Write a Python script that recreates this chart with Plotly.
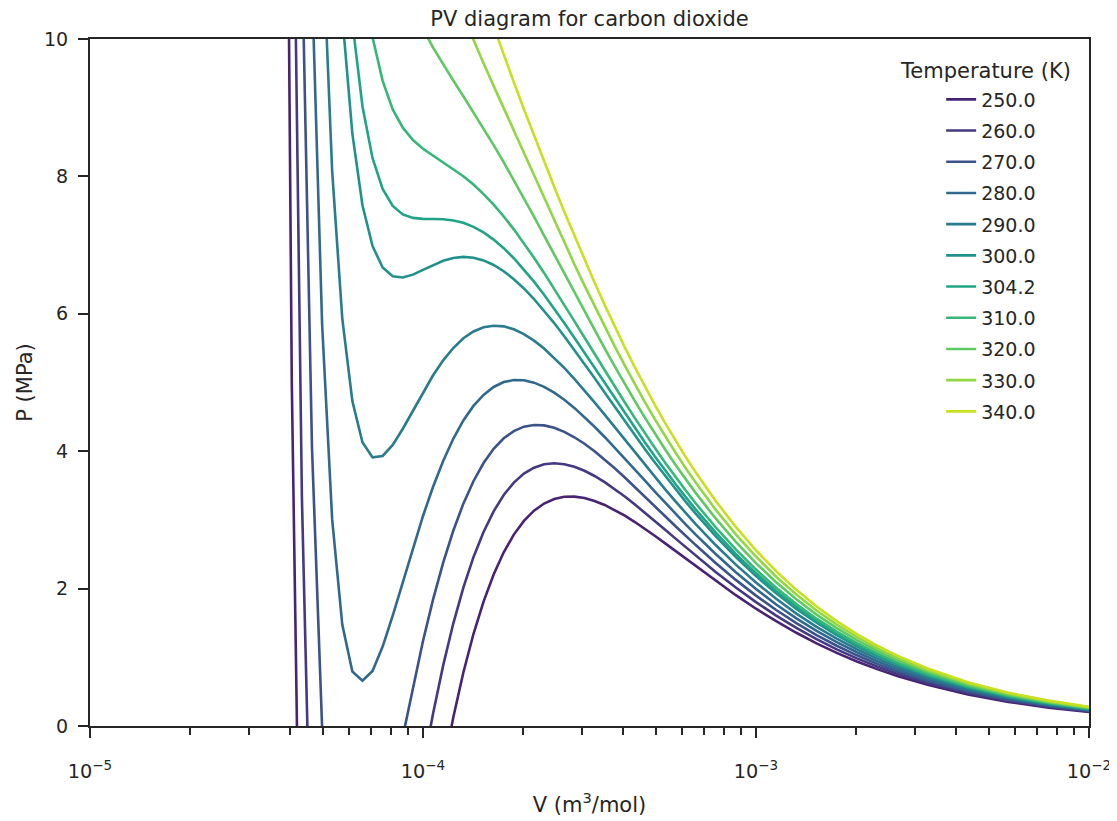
import plotly.graph_objects as go

# Temperatures (K) and their colours (viridis, sampled)
temperatures = [250.0, 260.0, 270.0, 280.0, 290.0, 300.0, 304.2, 310.0, 320.0, 330.0, 340.0]
colors = ["#482374", "#443983", "#3b528b", "#31688e", "#287c8e", "#21918c",
          "#20a486", "#35b779", "#5ec962", "#90d743", "#c8e020"]

# Molar volume (m^3/mol)
volume = [
    3.76494e-05, 4.03702e-05, 4.32876e-05, 4.64159e-05, 4.97702e-05, 5.33670e-05, 5.72237e-05, 6.13591e-05, 6.57933e-05, 7.05480e-05,
    7.56463e-05, 8.11131e-05, 8.69749e-05, 9.32603e-05, 1.00000e-04, 1.07227e-04, 1.14976e-04, 1.23285e-04, 1.32194e-04, 1.41747e-04,
    1.51991e-04, 1.62975e-04, 1.74753e-04, 1.87382e-04, 2.00923e-04, 2.15443e-04, 2.31013e-04, 2.47708e-04, 2.65609e-04, 2.84804e-04,
    3.05386e-04, 3.27455e-04, 3.51119e-04, 3.76494e-04, 4.03702e-04, 4.32876e-04, 4.64159e-04, 4.97702e-04, 5.33670e-04, 5.72237e-04,
    6.13591e-04, 6.57933e-04,
    7.56463e-04, 8.69749e-04, 1.00000e-03, 1.14976e-03, 1.32194e-03, 1.51991e-03, 1.74753e-03, 2.00923e-03, 2.31013e-03, 2.65609e-03,
    3.27455e-03, 4.32876e-03, 5.72237e-03, 7.56463e-03, 1.00000e-02,
]

# Pressure (MPa) for each isotherm; None = off the chart (curve not shown there)
p_250 = [23.204, 4.967, -4.756] + [None] * 13 + [
    -0.632, 0.124, 0.779, 1.339,
    1.811, 2.205, 2.528, 2.786, 2.986, 3.134, 3.238, 3.303, 3.336, 3.339,
    3.318, 3.276, 3.218, 3.145, 3.062, 2.969, 2.870, 2.766, 2.658, 2.549,
    2.438, 2.328,
    2.112, 1.904, 1.707, 1.525, 1.357, 1.203, 1.065, 0.940, 0.828, 0.728,
    0.599, 0.459, 0.351, 0.268, 0.204]

p_260 = [None, 14.507, 3.321, -2.804] + [None] * 10 + [
    -0.604, 0.183, 0.882, 1.491, 2.014, 2.457,
    2.825, 3.125, 3.363, 3.543, 3.674, 3.760, 3.810, 3.824, 3.810, 3.773,
    3.715, 3.639, 3.549, 3.449, 3.340, 3.224, 3.105, 2.981, 2.856, 2.731,
    2.606, 2.483,
    2.243, 2.016, 1.803, 1.607, 1.427, 1.264, 1.116, 0.984, 0.866, 0.761,
    0.625, 0.479, 0.366, 0.279, 0.212]

p_270 = [None, None, 11.302, 4.045, -0.014, -2.125] + [None] * 6 + [
    -0.152, 0.568, 1.238, 1.842, 2.379, 2.842, 3.237, 3.563,
    3.828, 4.034, 4.188, 4.293, 4.357, 4.382, 4.376, 4.340, 4.281, 4.203,
    4.108, 3.999, 3.879, 3.751, 3.617, 3.479, 3.338, 3.196, 3.053, 2.912,
    2.773, 2.637,
    2.374, 2.127, 1.898, 1.688, 1.497, 1.324, 1.168, 1.029, 0.904, 0.794,
    0.652, 0.499, 0.381, 0.290, 0.221]

p_280 = [None] * 3 + [
    10.816, 5.856, 3.003, 1.477, 0.793, 0.660, 0.802,
    1.156, 1.608, 2.100, 2.592, 3.057, 3.483, 3.858, 4.180, 4.447, 4.659,
    4.820, 4.935, 5.006, 5.036, 5.033, 4.998, 4.937, 4.852, 4.749, 4.630,
    4.498, 4.356, 4.207, 4.051, 3.892, 3.731, 3.570, 3.409, 3.250, 3.093,
    2.940, 2.790,
    2.504, 2.238, 1.993, 1.769, 1.566, 1.384, 1.220, 1.073, 0.943, 0.827,
    0.678, 0.519, 0.396, 0.302, 0.229]

p_290 = [None] * 4 + [
    11.658, 8.072, 5.934, 4.730, 4.129, 3.910,
    3.931, 4.091, 4.327, 4.592, 4.858, 5.105, 5.323, 5.502, 5.644, 5.743,
    5.804, 5.827, 5.817, 5.774, 5.704, 5.609, 5.494, 5.360, 5.213, 5.054,
    4.886, 4.711, 4.532, 4.349, 4.166, 3.982, 3.800, 3.621, 3.445, 3.273,
    3.105, 2.943,
    2.634, 2.349, 2.088, 1.851, 1.636, 1.443, 1.271, 1.117, 0.981, 0.860,
    0.705, 0.539, 0.411, 0.313, 0.238]

p_300 = [None] * 6 + [
    10.340, 8.623, 7.581, 6.985,
    6.674, 6.547, 6.529, 6.570, 6.639, 6.711, 6.772, 6.813, 6.829, 6.817,
    6.777, 6.711, 6.619, 6.504, 6.369, 6.215, 6.047, 5.865, 5.674, 5.475,
    5.272, 5.064, 4.855, 4.646, 4.438, 4.232, 4.030, 3.832, 3.639, 3.452,
    3.270, 3.095,
    2.764, 2.460, 2.182, 1.931, 1.705, 1.503, 1.322, 1.161, 1.019, 0.893,
    0.731, 0.559, 0.426, 0.324, 0.246]

p_304 = [None] * 7 + [
    10.245, 9.021, 8.265,
    7.818, 7.570, 7.447, 7.396, 7.382, 7.380, 7.377, 7.359, 7.324, 7.265,
    7.184, 7.080, 6.955, 6.809, 6.646, 6.468, 6.277, 6.076, 5.866, 5.651,
    5.433, 5.211, 4.990, 4.770, 4.552, 4.337, 4.126, 3.920, 3.720, 3.526,
    3.339, 3.158,
    2.818, 2.506, 2.222, 1.965, 1.735, 1.528, 1.344, 1.180, 1.035, 0.907,
    0.742, 0.567, 0.432, 0.329, 0.250]

p_310 = [None] * 8 + [
    10.998, 10.025,
    9.390, 8.976, 8.709, 8.529, 8.402, 8.301, 8.208, 8.110, 8.003, 7.881,
    7.742, 7.588, 7.417, 7.229, 7.028, 6.816, 6.595, 6.366, 6.131, 5.894,
    5.655, 5.414, 5.176, 4.940, 4.709, 4.481, 4.258, 4.042, 3.832, 3.630,
    3.434, 3.246,
    2.893, 2.570, 2.277, 2.012, 1.775, 1.562, 1.373, 1.206, 1.057, 0.926,
    0.758, 0.579, 0.441, 0.335, 0.255]

p_320 = [None] * 13 + [
    10.468, 10.148, 9.875, 9.629, 9.396, 9.167, 8.935,
    8.700, 8.456, 8.206, 7.948, 7.683, 7.413, 7.139, 6.863, 6.586, 6.309,
    6.035, 5.763, 5.496, 5.234, 4.977, 4.728, 4.486, 4.251, 4.025, 3.807,
    3.598, 3.397,
    3.021, 2.679, 2.370, 2.093, 1.844, 1.622, 1.425, 1.250, 1.095, 0.959,
    0.784, 0.598, 0.456, 0.346, 0.263]

p_330 = [None] * 17 + [
    10.670, 10.321, 9.982,
    9.648, 9.318, 8.991, 8.661, 8.333, 8.006, 7.681, 7.357, 7.037, 6.722,
    6.414, 6.110, 5.814, 5.526, 5.246, 4.974, 4.712, 4.460, 4.217, 3.984,
    3.761, 3.547,
    3.149, 2.789, 2.464, 2.173, 1.913, 1.681, 1.476, 1.294, 1.133, 0.992,
    0.810, 0.618, 0.470, 0.358, 0.271]

p_340 = [None] * 20 + [
    10.590, 10.174, 9.768, 9.370, 8.978, 8.595, 8.218, 7.848, 7.486, 7.133,
    6.790, 6.455, 6.130, 5.815, 5.512, 5.220, 4.938, 4.667, 4.408, 4.160,
    3.923, 3.697,
    3.277, 2.898, 2.558, 2.253, 1.982, 1.740, 1.527, 1.338, 1.171, 1.024,
    0.837, 0.638, 0.485, 0.369, 0.280]

pressures = [p_250, p_260, p_270, p_280, p_290, p_300, p_304, p_310, p_320, p_330, p_340]

FONT = "DejaVu Sans, Verdana, sans-serif"
INK = "#262626"

fig = go.Figure()
for t, col, p in zip(temperatures, colors, pressures):
    fig.add_trace(go.Scatter(
        x=volume, y=p, mode="lines", name=f"{t:.1f}", legendgroup=f"{t:.1f}",
        line=dict(color=col, width=2.6), connectgaps=False,
    ))

# The page body adds an 8px offset, so the figure is 8px smaller and margins compensate.
fig.update_layout(
    width=1109, height=813,
    margin=dict(l=82, r=28, t=31, b=95),
    paper_bgcolor="white", plot_bgcolor="white",
    font=dict(family=FONT, color=INK, size=19),
    title=dict(text="PV diagram for carbon dioxide", x=0.5, xref="paper",
               y=0.9865, yref="container", yanchor="middle",
               font=dict(size=21, family=FONT, color=INK)),
    showlegend=True,
    legend=dict(
        x=0.852, y=0.9396, xanchor="left", yanchor="top",
        bgcolor="rgba(0,0,0,0)", borderwidth=0,
        font=dict(size=19, family=FONT, color=INK),
        traceorder="grouped", tracegroupgap=3.5,
    ),
    annotations=[dict(
        text="Temperature (K)", xref="paper", yref="paper",
        x=0.8966, y=0.954, xanchor="center", yanchor="middle",
        showarrow=False, font=dict(size=21, family=FONT, color=INK),
    )],
)

fig.update_xaxes(
    type="log", range=[-5, -2], dtick=1, exponentformat="power",
    ticks="outside", ticklen=10, tickwidth=2.2, tickcolor=INK,
    tickfont=dict(size=15.4, family=FONT, color=INK), ticklabelstandoff=18,
    showline=True, linewidth=2.2, linecolor=INK, mirror=True,
    showgrid=False, zeroline=False,
    minor=dict(ticks="outside", ticklen=7, tickwidth=1.7, tickcolor=INK,
               dtick="D1", showgrid=False),
    title=dict(text="V (m<sup>3</sup>/mol)", font=dict(size=21, family=FONT, color=INK),
               standoff=15),
    automargin=False,
)
fig.update_yaxes(
    range=[0, 10], dtick=2, ticks="outside", ticklen=10, tickwidth=2.2, tickcolor=INK,
    tickfont=dict(size=19, family=FONT, color=INK), ticklabelstandoff=6,
    showline=True, linewidth=2.2, linecolor=INK, mirror=True,
    showgrid=False, zeroline=False,
    title=dict(text="P (MPa)", font=dict(size=21, family=FONT, color=INK), standoff=6),
    automargin=False,
)

fig.write_html("out.html")
